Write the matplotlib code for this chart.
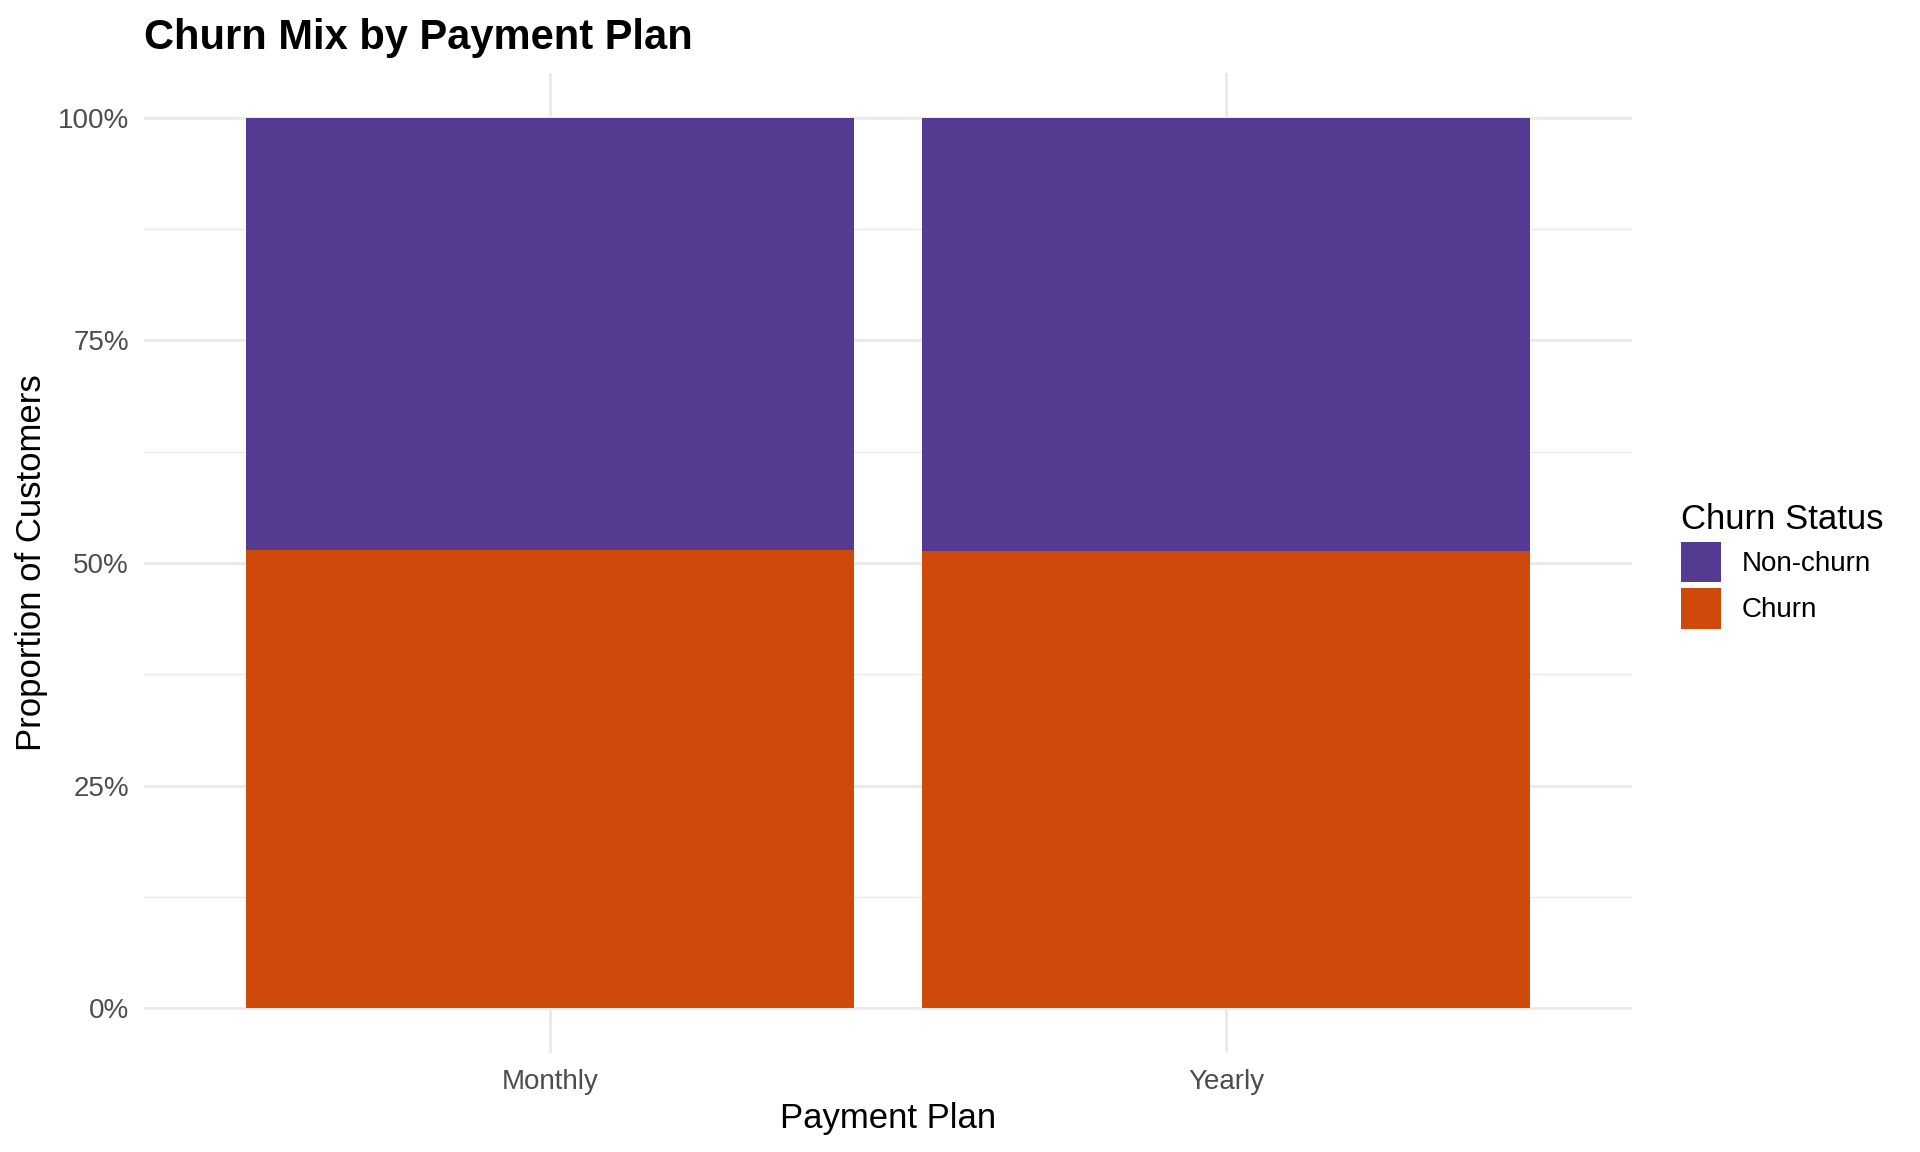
import matplotlib.pyplot as plt
import numpy as np
from matplotlib.patches import Patch
from matplotlib.ticker import FixedLocator, PercentFormatter

# data
plans = ["Monthly", "Yearly"]
churn = [0.515, 0.513]
non_churn = [0.485, 0.487]
status = ["Non-churn", "Churn"]
colors = {"Non-churn": "#543B91", "Churn": "#CF4A0A"}

plt.rcParams['font.family'] = ['Liberation Sans', 'DejaVu Sans']

fig = plt.figure(figsize=(9.6, 5.76), dpi=200)
ax = fig.add_axes([0.0752, 0.0861, 0.8498 - 0.0752, 0.9366 - 0.0861])

x = np.arange(1, len(plans) + 1)
ax.bar(x, churn, width=0.9, color=colors["Churn"], zorder=2)
ax.bar(x, non_churn, width=0.9, bottom=churn, color=colors["Non-churn"], zorder=2)

ax.set_xlim(0.4, 2.6)
ax.set_ylim(-0.05, 1.05)
ax.set_xticks(x)
ax.set_xticklabels(plans)
ax.yaxis.set_major_locator(FixedLocator([0, 0.25, 0.5, 0.75, 1.0]))
ax.yaxis.set_minor_locator(FixedLocator([0.125, 0.375, 0.625, 0.875]))
ax.yaxis.set_major_formatter(PercentFormatter(1.0, decimals=0))

grid = "#EBEBEB"
ax.grid(True, which='major', color=grid, linewidth=1.07, zorder=0)
ax.grid(True, which='minor', axis='y', color=grid, linewidth=0.53, zorder=0)
for s in ax.spines.values():
    s.set_visible(False)
ax.tick_params(which='both', length=0)
ax.tick_params(axis='y', labelsize=10, labelcolor='#4D4D4D', pad=5.5)
ax.tick_params(axis='x', labelsize=10, labelcolor='#4D4D4D', pad=6)

ax.set_xlabel("Payment Plan", fontsize=12.5, labelpad=2.5)
ax.set_ylabel("Proportion of Customers", fontsize=12.5, labelpad=3.5)

fig.text(0.0752, 0.967, "Churn Mix by Payment Plan", fontsize=15,
         fontweight='bold', ha='left', va='center')

handles = [Patch(facecolor=colors[s], edgecolor='none', label=s) for s in status]
leg = fig.legend(handles=handles, title="Churn Status", loc='center left',
                 bbox_to_anchor=(0.8695, 0.509), frameon=False, fontsize=10,
                 title_fontsize=12.5, handlelength=1.45, handleheight=1.854,
                 handletextpad=0.75, labelspacing=0.22, borderaxespad=0)
leg._legend_box.align = "left"

fig.savefig("out.png", dpi=200)
